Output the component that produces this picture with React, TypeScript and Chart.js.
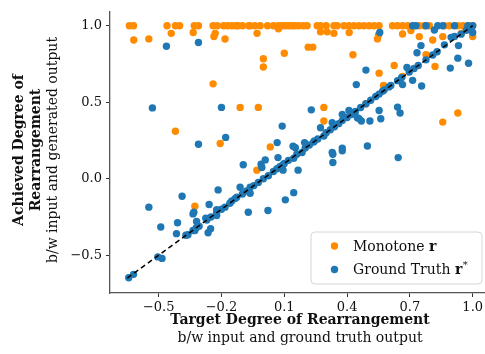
import React, { useEffect, useRef } from "react";
import { Chart, registerables } from "chart.js";

Chart.register(...registerables);

// ---- data ----
const xTicks = [-0.5, -0.2, 0.1, 0.4, 0.7, 1.0];
const yTicks = [-0.5, 0.0, 0.5, 1.0];

const monotoneTopX = [
  -0.64, -0.62, -0.46, -0.42, -0.4, -0.33, -0.31, -0.24, -0.22, -0.19, -0.17, -0.15, -0.13,
  -0.12, -0.1, -0.07, -0.063, -0.04, -0.015, 0.02, 0.048, 0.072, 0.09, 0.105, 0.12, 0.137,
  0.15, 0.168, 0.19, 0.209, 0.257, 0.273, 0.3, 0.337, 0.353, 0.385, 0.409, 0.433, 0.457, 0.48,
  0.505, 0.529, 0.553, 0.617, 0.641, 0.665, 0.689, 0.745, 0.769, 0.793, 0.865, 0.889, 0.929,
  0.953, 0.977, 1.0,
];

const monotoneOther: [number, number][] = [
  [-0.44, 0.95], [-0.335, 0.956], [-0.23, 0.95], [-0.236, 0.93], [-0.183, 0.913],
  [-0.619, 0.907], [-0.547, 0.914], [-0.03, 0.95], [0.072, 0.98], [0.273, 0.96],
  [0.305, 0.96], [0.337, 0.95], [0.41, 0.956], [0.545, 0.914], [0.55, 0.94],
  [0.665, 0.946], [0.705, 0.968], [0.745, 0.929], [0.809, 0.907], [0.857, 0.929],
  [0.945, 0.95], [1.0, 0.929], [0.0, 0.784], [0.0, 0.73], [0.1, 0.82], [0.214, 0.86],
  [0.236, 0.86], [0.428, 0.81], [0.777, 0.81], [0.625, 0.74], [0.553, 0.69], [0.82, 0.734],
  [0.574, 0.61], [0.665, 0.669], [0.49, 0.49], [0.857, 0.37], [0.929, 0.43], [-0.24, 0.62],
  [-0.42, 0.31], [-0.206, 0.23], [-0.111, 0.466], [-0.024, 0.466], [0.289, 0.466],
  [0.289, 0.377], [0.033, 0.208], [-0.327, -0.18], [-0.031, 0.056],
];

const groundTruthDiagonal: [number, number][] = [
  [-0.643, -0.647], [-0.62, -0.625], [-0.504, -0.511], [-0.484, -0.521], [-0.37, -0.37],
  [-0.36, -0.366], [-0.336, -0.338], [-0.32, -0.32], [-0.307, -0.31], [-0.27, -0.27],
  [-0.25, -0.25], [-0.223, -0.22], [-0.2, -0.2], [-0.183, -0.186], [-0.16, -0.16],
  [-0.151, -0.145], [-0.135, -0.13], [-0.127, -0.121], [-0.1, -0.1], [-0.08, -0.08],
  [-0.063, -0.056], [-0.045, -0.045], [-0.024, -0.024], [0.0, 0.0], [0.024, 0.019],
  [0.048, 0.047], [0.065, 0.065], [0.08, 0.08], [0.1, 0.1], [0.12, 0.12], [0.145, 0.134],
  [0.16, 0.16], [0.185, 0.171], [0.2, 0.2], [0.22, 0.22], [0.24, 0.24], [0.26, 0.26],
  [0.289, 0.279], [0.3, 0.3], [0.32, 0.32], [0.34, 0.34], [0.36, 0.36], [0.377, 0.38],
  [0.4, 0.4], [0.42, 0.42], [0.44, 0.44], [0.465, 0.465], [0.49, 0.49], [0.513, 0.513],
  [0.537, 0.537], [0.553, 0.553], [0.569, 0.571], [0.577, 0.58], [0.6, 0.6], [0.609, 0.609],
  [0.641, 0.641], [0.66, 0.66], [0.697, 0.697], [0.72, 0.72], [0.74, 0.74], [0.777, 0.777],
  [0.809, 0.809], [0.83, 0.83], [0.865, 0.875], [0.897, 0.924], [0.913, 0.93], [0.945, 0.945],
  [0.97, 0.97], [0.993, 0.993], [1.0, 1.0],
];

const groundTruthOther: [number, number][] = [
  [-0.547, -0.186], [-0.49, -0.316], [-0.415, -0.359], [-0.41, -0.288], [-0.388, -0.115],
  [-0.332, -0.219], [-0.336, -0.23], [-0.319, -0.279], [-0.327, -0.338], [-0.264, -0.353],
  [-0.252, -0.327], [-0.275, -0.258], [-0.259, -0.169], [-0.223, -0.24], [-0.223, -0.203],
  [-0.216, -0.073], [-0.463, 0.866], [-0.31, 0.89], [-0.53, 0.463], [-0.2, 0.466],
  [-0.18, 0.27], [-0.31, 0.225], [-0.096, 0.091], [-0.011, 0.095], [0.009, 0.123],
  [-0.007, 0.073], [0.07, 0.138], [0.094, 0.091], [0.094, 0.056], [0.166, 0.056],
  [-0.111, -0.056], [-0.063, -0.095], [-0.072, -0.219], [0.022, -0.208], [0.105, -0.138],
  [0.145, -0.091], [0.332, 0.16], [0.332, 0.106], [0.377, 0.182], [0.644, 0.138],
  [0.444, 0.615], [0.229, 0.45], [0.09, 0.344], [0.066, 0.236], [0.142, 0.212],
  [0.153, 0.203], [0.197, 0.236], [0.244, 0.247], [0.273, 0.333], [0.329, 0.366],
  [0.377, 0.42], [0.409, 0.446], [0.449, 0.398], [0.377, 0.2], [0.329, 0.171],
  [0.457, 0.393], [0.468, 0.377], [0.509, 0.377], [0.561, 0.392], [0.553, 0.446],
  [0.641, 0.468], [0.653, 0.43], [0.497, 0.214], [0.49, 0.71], [0.686, 0.727],
  [0.713, 0.643], [0.756, 0.606], [0.665, 0.615], [0.753, 0.87], [0.734, 0.823],
  [0.932, 0.87], [0.929, 0.788], [0.98, 0.755], [0.893, 0.723], [0.556, 0.956],
  [0.817, 0.972], [1.0, 0.956], [0.713, 1.0], [0.729, 1.0], [0.777, 1.0], [0.833, 1.0],
  [0.857, 1.0], [0.913, 1.0], [0.977, 1.0],
];

const diagonalLine: [number, number][] = [[-0.65, -0.65], [1.0, 1.0]];

const ORANGE = "#ff8c00";
const BLUE = "#1f77b4";
const FONT = "'DejaVu Serif', serif";

const toXY = (arr: [number, number][]) => arr.map(([x, y]) => ({ x, y }));
const fmt = (v: number) => v.toFixed(1).replace("-", "\u2212");

const titlesPlugin = {
  id: "titlesAndLegend",
  afterDraw(chart: any) {
    const ctx = chart.ctx as CanvasRenderingContext2D;
    ctx.save();
    ctx.fillStyle = "#111";
    ctx.textAlign = "center";
    ctx.textBaseline = "middle";
    // x title
    ctx.font = `bold 14px ${FONT}`;
    ctx.fillText("Target Degree of Rearrangement", 300, 320);
    ctx.font = `14px ${FONT}`;
    ctx.fillText("b/w input and ground truth output", 300, 338);
    // y title
    ctx.save();
    ctx.translate(0, 150);
    ctx.rotate(-Math.PI / 2);
    ctx.font = `bold 14px ${FONT}`;
    ctx.fillText("Achieved Degree of", 0, 19);
    ctx.fillText("Rearrangement", 0, 36);
    ctx.font = `14px ${FONT}`;
    ctx.fillText("b/w input and generated output", 0, 53);
    ctx.restore();

    // legend
    const bx = 311, by = 232, bw = 171, bh = 52, r = 4;
    ctx.beginPath();
    ctx.moveTo(bx + r, by);
    ctx.lineTo(bx + bw - r, by);
    ctx.arcTo(bx + bw, by, bx + bw, by + r, r);
    ctx.lineTo(bx + bw, by + bh - r);
    ctx.arcTo(bx + bw, by + bh, bx + bw - r, by + bh, r);
    ctx.lineTo(bx + r, by + bh);
    ctx.arcTo(bx, by + bh, bx, by + bh - r, r);
    ctx.lineTo(bx, by + r);
    ctx.arcTo(bx, by, bx + r, by, r);
    ctx.closePath();
    ctx.fillStyle = "rgba(255,255,255,0.85)";
    ctx.fill();
    ctx.strokeStyle = "#d6d6d6";
    ctx.lineWidth = 1;
    ctx.stroke();

    const rows = [
      { color: ORANGE, text: "Monotone ", sup: "", y: 246 },
      { color: BLUE, text: "Ground Truth ", sup: "*", y: 269.5 },
    ];
    rows.forEach((row) => {
      ctx.beginPath();
      ctx.arc(334.5, row.y, 3.7, 0, Math.PI * 2);
      ctx.fillStyle = row.color;
      ctx.fill();
      ctx.fillStyle = "#111";
      ctx.textAlign = "left";
      ctx.textBaseline = "middle";
      ctx.font = `14px ${FONT}`;
      let x = 353;
      ctx.fillText(row.text, x, row.y + 1);
      x += ctx.measureText(row.text).width;
      ctx.font = `bold 14px ${FONT}`;
      ctx.fillText("r", x, row.y + 1);
      x += ctx.measureText("r").width;
      if (row.sup) {
        ctx.font = `10px ${FONT}`;
        ctx.fillText(row.sup, x + 0.5, row.y - 4);
      }
    });
    ctx.restore();
  },
};

export default function App() {
  const canvasRef = useRef<HTMLCanvasElement | null>(null);

  useEffect(() => {
    if (!canvasRef.current) return;
    const monotoneData = [
      ...monotoneTopX.map((x) => ({ x, y: 1.0 })),
      ...toXY(monotoneOther),
    ];
    const groundTruthData = [...toXY(groundTruthDiagonal), ...toXY(groundTruthOther)];

    const chart = new Chart(canvasRef.current, {
      type: "scatter",
      data: {
        datasets: [
          {
            type: "line",
            label: "diag",
            data: toXY(diagonalLine),
            borderColor: "#000",
            borderWidth: 1.5,
            borderDash: [5, 3.5],
            pointRadius: 0,
            fill: false,
          } as any,
          {
            label: "Ground Truth r*",
            data: groundTruthData,
            backgroundColor: BLUE,
            borderWidth: 0,
            pointRadius: 3.7,
            pointHoverRadius: 3.7,
          },
          {
            label: "Monotone r",
            data: monotoneData,
            backgroundColor: ORANGE,
            borderWidth: 0,
            pointRadius: 3.7,
            pointHoverRadius: 3.7,
          },
        ],
      },
      options: {
        animation: false,
        responsive: false,
        maintainAspectRatio: false,
        events: [],
        layout: { padding: { top: 10, right: 0, left: 0, bottom: 0 } },
        plugins: {
          legend: { display: false },
          tooltip: { enabled: false },
        },
        scales: {
          x: {
            type: "linear",
            min: -0.7325,
            max: 1.065,
            afterBuildTicks: (scale: any) => {
              scale.ticks = xTicks.map((v) => ({ value: v }));
            },
            afterFit: (scale: any) => {
              scale.height = 61;
            },
            ticks: {
              color: "#111",
              font: { family: FONT, size: 13 },
              padding: 3,
              maxRotation: 0,
              autoSkip: false,
              callback: (v: any) => fmt(Number(v)),
            },
            grid: {
              display: true,
              drawOnChartArea: false,
              drawTicks: true,
              tickLength: 4,
              color: "#333",
              lineWidth: 1,
            },
            border: { display: true, color: "#555", width: 1.3 },
          },
          y: {
            type: "linear",
            min: -0.747,
            max: 1.091,
            afterBuildTicks: (scale: any) => {
              scale.ticks = yTicks.map((v) => ({ value: v }));
            },
            afterFit: (scale: any) => {
              scale.width = 110;
            },
            ticks: {
              color: "#111",
              font: { family: FONT, size: 13 },
              padding: 4,
              autoSkip: false,
              callback: (v: any) => fmt(Number(v)),
            },
            grid: {
              display: true,
              drawOnChartArea: false,
              drawTicks: true,
              tickLength: 4,
              color: "#333",
              lineWidth: 1,
            },
            border: { display: true, color: "#555", width: 1.3 },
          },
        },
      },
      plugins: [titlesPlugin],
    });
    return () => chart.destroy();
  }, []);

  return (
    <div
      style={{
        position: "fixed",
        left: 0,
        top: 0,
        width: 485,
        height: 354,
        overflow: "hidden",
        background: "#fff",
      }}
    >
      <canvas ref={canvasRef} width={490} height={354} style={{ width: 490, height: 354, display: "block" }} />
    </div>
  );
}
